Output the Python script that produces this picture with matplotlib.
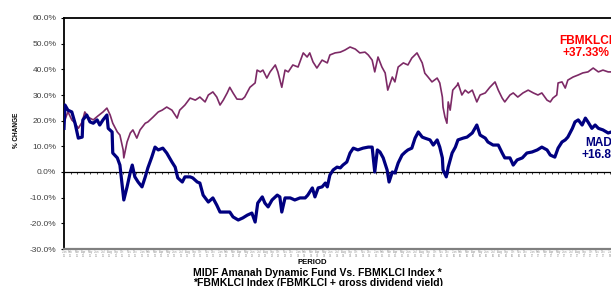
import matplotlib
matplotlib.use("Agg")
import matplotlib.pyplot as plt

plt.rcParams['font.family'] = ['Liberation Sans', 'DejaVu Sans']

# time axis in months since start of the period
fbm_months = [0.15, 0.6, 1.2, 1.7, 2.2, 2.8, 3.2, 3.7, 4.5, 5.2, 6.0, 6.6, 7.1, 7.5,
              8.2, 8.6, 9.1, 9.2, 9.7, 10.2, 10.6, 11.2, 11.7, 12.5, 12.9, 13.7, 14.5,
              15.1, 15.8, 16.6, 17.4, 17.8, 18.6, 19.4, 20.2, 20.9, 21.7, 22.2, 22.9,
              23.5, 24.0, 24.5, 25.1, 25.5, 26.0, 26.6, 27.4, 27.8, 28.6, 29.4, 29.7,
              30.2, 30.6, 31.2, 31.7, 32.5, 32.9, 33.5, 34.0, 34.5, 35.2, 36.0, 36.8,
              37.4, 37.8, 38.3, 38.9, 39.7, 40.5, 40.9, 41.7, 42.5, 43.2, 44.0, 44.8,
              45.5, 46.3, 46.8, 47.4, 47.8, 48.3, 48.9, 49.4, 49.8, 50.5, 50.9, 51.4,
              52.2, 52.9, 53.5, 54.3, 55.1, 55.5, 56.0, 56.6, 57.4, 57.8, 58.2, 58.3,
              58.6, 58.9, 59.1, 59.4, 59.8, 60.5, 60.6, 61.2, 61.7, 62.2, 62.8, 63.5,
              64.0, 64.8, 65.5, 66.3, 66.8, 67.4, 67.8, 68.6, 69.1, 69.8, 70.6, 71.4,
              72.2, 72.9, 73.5, 74.3, 74.8, 75.2, 75.8, 76.0, 76.6, 77.1, 77.5, 78.3,
              79.1, 79.8, 80.6, 81.4, 82.2, 82.9, 83.7, 84.2]
fbm_change = [20.3, 23.5, 20.3, 19.0, 17.0, 19.5, 23.4, 21.4, 20.3, 21.8, 23.4, 24.9, 22.2, 19.0,
              15.6, 14.4, 8.6, 5.5, 11.7, 15.2, 16.4, 13.2, 16.4, 19.0, 19.5, 21.4, 23.4,
              24.1, 25.3, 24.1, 21.0, 24.1, 26.1, 28.8, 28.0, 29.2, 27.3, 30.0, 31.2,
              29.2, 26.1, 28.0, 30.8, 33.0, 30.8, 28.4, 28.3, 29.2, 33.0, 34.7, 39.7,
              39.0, 39.7, 36.6, 39.0, 41.7, 39.0, 33.0, 39.7, 39.0, 41.7, 40.9, 46.4,
              44.8, 46.4, 42.9, 40.5, 43.6, 42.5, 45.6, 46.4, 46.7, 47.5, 48.7, 47.9,
              46.4, 46.7, 45.6, 43.6, 39.0, 44.8, 40.9, 38.6, 31.9, 37.0, 35.1, 40.9,
              42.5, 41.7, 44.4, 46.4, 42.5, 38.5, 37.0, 35.1, 36.6, 34.7, 29.2, 25.3,
              21.4, 19.0, 27.3, 24.1, 31.9, 33.9, 34.7, 30.0, 31.9, 30.8, 31.9, 27.3,
              30.0, 30.8, 33.0, 35.1, 31.9, 28.8, 27.3, 30.0, 30.8, 29.2, 30.8, 31.9,
              30.8, 30.0, 30.8, 28.0, 27.3, 28.8, 30.0, 34.7, 35.1, 32.7, 35.8, 37.0,
              37.8, 38.6, 39.0, 40.5, 39.0, 39.7, 39.0, 39.0]

madf_months = [0.0, 0.15, 0.6, 1.2, 1.7, 2.2, 2.8, 2.9, 3.5, 4.0, 4.5, 5.1, 5.5, 6.0, 6.6,
               6.8, 7.4, 7.5, 8.2, 8.6, 8.9, 9.2, 9.7, 10.2, 10.5, 10.9, 11.4, 12.0, 12.5,
               12.9, 13.5, 14.0, 14.5, 15.2, 15.8, 16.6, 17.1, 17.5, 18.2, 18.6, 19.4,
               19.8, 20.5, 20.9, 21.4, 22.2, 22.9, 23.5, 24.0, 24.8, 25.5, 26.0, 26.8,
               27.5, 28.2, 28.9, 29.4, 29.8, 30.5, 30.9, 31.4, 32.0, 32.8, 33.2, 33.5,
               34.0, 34.8, 35.5, 36.3, 37.1, 37.5, 38.2, 38.6, 39.1, 39.7, 40.2, 40.5,
               40.9, 41.4, 42.0, 42.5, 42.9, 43.5, 44.0, 44.5, 45.2, 46.0, 46.8, 47.4,
               47.8, 48.2, 48.6, 49.1, 49.7, 50.0, 50.5, 50.9, 51.4, 52.0, 52.5, 52.9,
               53.5, 54.0, 54.5, 55.1, 55.5, 56.3, 56.8, 57.4, 57.8, 58.2, 58.3, 58.8,
               59.1, 59.7, 60.2, 60.6, 61.4, 62.0, 62.8, 63.2, 63.5, 64.0, 64.8, 65.2,
               66.0, 66.8, 67.4, 67.8, 68.6, 69.1, 69.7, 70.5, 71.2, 72.0, 72.8, 73.5,
               74.3, 74.8, 75.5, 76.0, 76.6, 77.1, 77.5, 78.2, 78.6, 79.1, 79.7, 80.2,
               80.6, 81.2, 81.7, 82.2, 82.9, 83.7, 84.2]
madf_change = [17.0, 26.1, 24.1, 23.4, 19.0, 13.2, 13.6, 20.3, 22.2, 19.5, 19.0, 20.3, 18.3, 20.3, 22.2,
               17.0, 15.6, 7.4, 5.5, 2.7, -4.3, -10.9, -5.8, 0.0, 2.7, -1.9, -3.9, -5.8, -1.9,
               1.6, 5.8, 9.7, 8.6, 9.3, 7.4, 3.9, 1.9, -2.3, -3.9, -1.9, -1.9,
               -2.3, -3.9, -4.3, -9.0, -11.7, -10.1, -12.9, -15.6, -15.6, -15.6, -17.5, -18.7,
               -17.9, -16.8, -16.0, -19.5, -12.1, -9.7, -12.1, -13.6, -10.9, -9.0, -9.7, -15.6,
               -10.1, -10.1, -10.9, -10.1, -10.1, -9.0, -6.2, -9.7, -6.2, -5.8, -4.3, -5.8,
               -1.2, 0.8, 1.9, 1.6, 2.7, 3.9, 7.4, 9.3, 8.6, 9.3, 9.7, 9.7,
               0.0, 8.6, 7.8, 5.5, 0.8, -3.9, 0.0, -0.4, 3.5, 6.6, 7.8, 8.6,
               9.3, 13.2, 15.6, 13.6, 13.2, 12.5, 10.5, 12.5, 9.7, 5.5, 0.8, -1.9,
               1.9, 7.4, 9.7, 12.5, 13.2, 13.6, 15.2, 17.0, 18.3, 14.4, 13.2, 11.7,
               10.5, 10.5, 7.4, 5.5, 5.5, 2.7, 4.7, 5.5, 7.4, 7.8, 8.6, 9.7,
               8.6, 6.6, 5.8, 9.3, 11.7, 12.5, 13.6, 17.0, 19.5, 20.3, 18.3, 21.0,
               19.5, 17.0, 18.3, 17.0, 16.4, 15.2, 15.6]

month_names = ['Jan', 'Feb', 'Mar', 'Apr', 'May', 'Jun',
               'Jul', 'Aug', 'Sep', 'Oct', 'Nov', 'Dec']
start_year = 11
n_months = 89
y_ticks = [-30, -20, -10, 0, 10, 20, 30, 40, 50, 60]

fbm_label = "FBMKLCI"
fbm_final = "+37.33%"
madf_label = "MADF"
madf_final = "+16.85%"

fig = plt.figure(figsize=(6.11, 2.86), dpi=100)
ax = fig.add_axes([64 / 611, 1 - 249 / 286, 576 / 611, 231 / 286])

ax.plot(fbm_months, fbm_change, color='#7D2A66', lw=1.2, zorder=3)
ax.plot(madf_months, madf_change, color='#000080', lw=2.3, zorder=4)

ax.set_ylim(-30, 60)
ax.set_xlim(0, n_months - 0.4)
ax.set_yticks(y_ticks)
ax.set_yticklabels(['%.1f%%' % v for v in y_ticks])
ax.tick_params(axis='y', direction='out', length=2.5, width=0.8, pad=3,
               labelsize=6, labelcolor='#404040')

ticks = list(range(n_months))
labels = ['%s\n%02d' % (month_names[m % 12], start_year + m // 12) for m in ticks]
ax.set_xticks(ticks)
ax.set_xticklabels(labels, fontsize=2.0, color='#909090', linespacing=0.9)
ax.tick_params(axis='x', length=0, pad=1)

# category axis crossing at zero with its little tick marks
ax.axhline(0, color='black', lw=0.9, zorder=2)
ax.vlines(ticks, -0.9, 0, color='black', lw=0.5, zorder=2)

ax.spines['right'].set_visible(False)
ax.spines['top'].set_color('black')
ax.spines['top'].set_linewidth(1.3)
ax.spines['left'].set_color('black')
ax.spines['left'].set_linewidth(1.3)
ax.spines['bottom'].set_color('#808080')
ax.spines['bottom'].set_linewidth(1.6)

fig.text(17 / 611, 1 - 130 / 286, '% CHANGE', rotation=90, fontsize=4.7,
         fontweight='bold', ha='center', va='center')
fig.text(312 / 611, 1 - 262.5 / 286, 'PERIOD', fontsize=5.6, fontweight='bold',
         ha='center', va='center')
fig.text(193 / 611, 1 - 273.5 / 286, 'MIDF Amanah Dynamic Fund Vs. FBMKLCI Index *',
         fontsize=7.5, fontweight='bold', ha='left', va='center')
fig.text(193 / 611, 1 - 283.5 / 286, '*FBMKLCI Index (FBMKLCI + gross dividend yield)',
         fontsize=7.5, fontweight='bold', ha='left', va='center')

fig.text(586 / 611, 1 - 41 / 286, fbm_label, color='#FF0000', fontsize=8.6,
         fontweight='bold', ha='center', va='center')
fig.text(586 / 611, 1 - 53 / 286, fbm_final, color='#FF0000', fontsize=8.6,
         fontweight='bold', ha='center', va='center')
fig.text(602 / 611, 1 - 143 / 286, madf_label, color='#000080', fontsize=8.6,
         fontweight='bold', ha='center', va='center')
fig.text(605 / 611, 1 - 155 / 286, madf_final, color='#000080', fontsize=8.6,
         fontweight='bold', ha='center', va='center')

fig.savefig('out.png', dpi=100)
